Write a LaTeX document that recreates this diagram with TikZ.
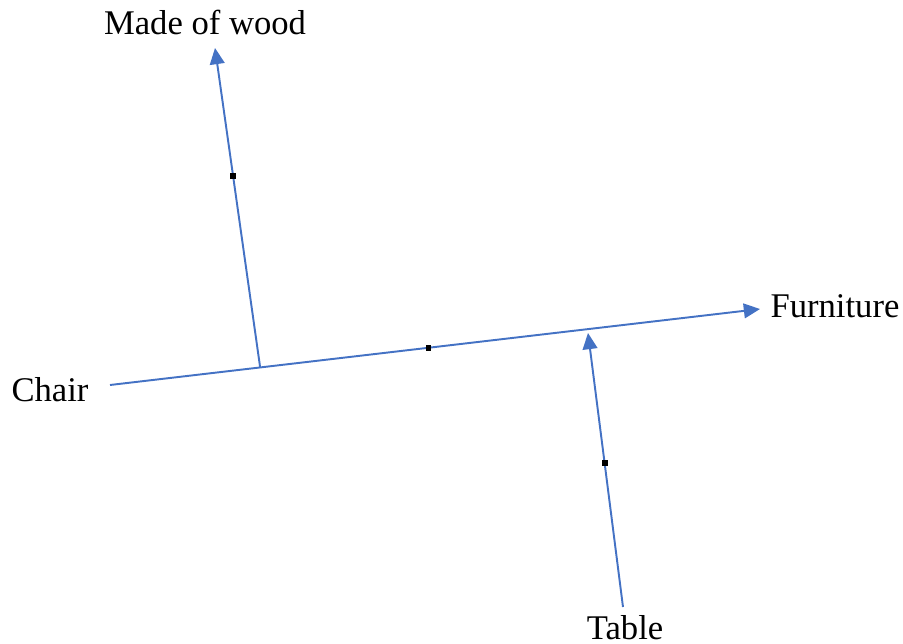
\documentclass[tikz,border=0pt]{standalone}
\usepackage{fontspec}
\setmainfont{Liberation Serif}
\usepackage{tikz}
\usetikzlibrary{arrows.meta, positioning}

\definecolor{linkblue}{RGB}{68,114,196}

\begin{document}
\begin{tikzpicture}[
    word/.style={font=\fontsize{9.85}{12}\selectfont, inner sep=0pt},
    link/.style={draw=linkblue, line width=0.55pt, -{Triangle[length=4.6pt, width=4.2pt]}},
    dot/.style={rectangle, fill=black, inner sep=0pt, minimum size=1.7pt}
]

\useasboundingbox (0,0) rectangle (9.03,6.43);

% Define the nodes
% Labels
\node[word] (wood) at (2.05, 6.21) {Made of wood};
\node[word] (chair) at (0.50, 2.53) {Chair};
\node[word] (furniture) at (8.35, 3.37) {Furniture};
\node[word] (table) at (6.25, 0.15) {Table};

% Line ends
\coordinate (chairEnd) at (1.10, 2.58);
\coordinate (furnitureTip) at (7.60, 3.34);
\coordinate (woodTip) at (2.15, 5.95);
\coordinate (tableEnd) at (6.23, 0.36);
\coordinate (tableTip) at (5.88, 3.10);

% --- Draw the connections (Lines) ---

% From Chair to Furniture
\draw[link] (chairEnd) -- (furnitureTip)
    node[dot, pos=0.49] (mid1) {}
    coordinate[pos=0.231] (woodFoot);

% Up to Made of wood
\draw[link] (woodFoot) -- (woodTip) node[dot, pos=0.60] (mid2) {};

% From Table up to the main line
\draw[link] (tableEnd) -- (tableTip) node[dot, pos=0.526] (mid3) {};

\end{tikzpicture}
\end{document}
